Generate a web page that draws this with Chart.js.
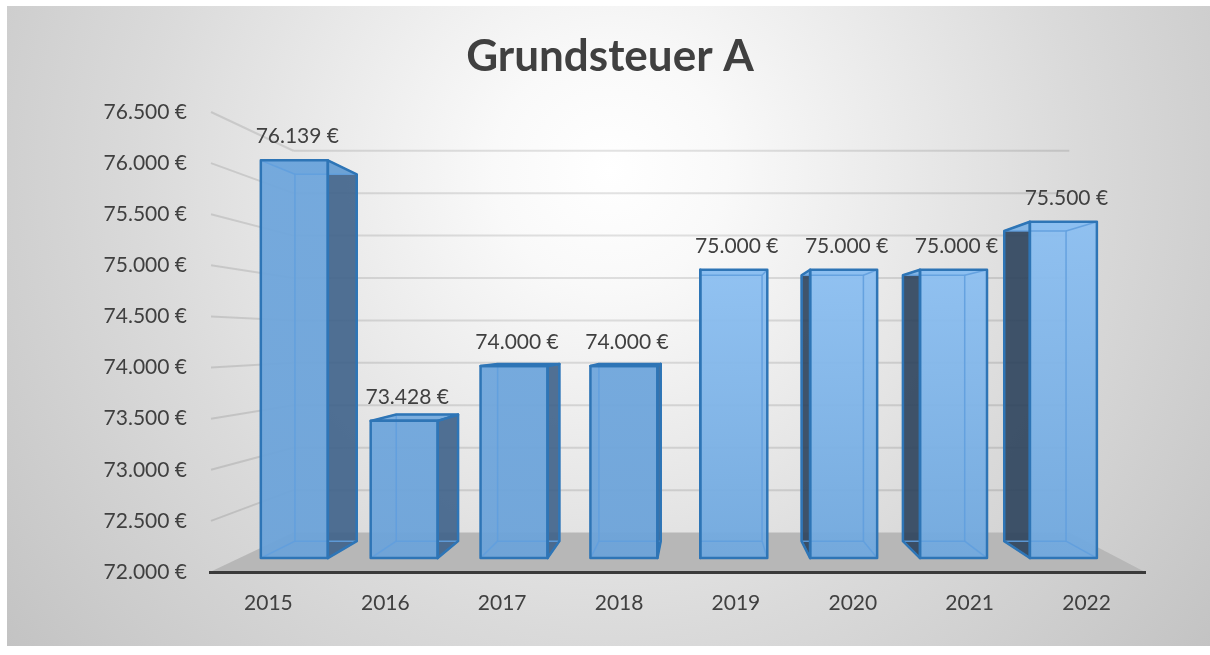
<!DOCTYPE html>
<html>
<head>
<meta charset="utf-8">
<script src="https://cdn.jsdelivr.net/npm/chart.js@4.4.0/dist/chart.umd.min.js"></script>
<style>
  html, body { margin: 0; background: #fff; }
  canvas { display: block; }
</style>
</head>
<body>
<canvas id="taxChart" width="1210" height="655"></canvas>
<script>
const chartTitle = 'Grundsteuer A';
const years = ['2015', '2016', '2017', '2018', '2019', '2020', '2021', '2022'];
const amounts = [76139, 73428, 74000, 74000, 75000, 75000, 75000, 75500];
const axisMin = 72000;
const axisMax = 76500;
const axisStep = 500;

// fake perspective: everything the scales lay out sits on the front plane,
// deeper planes are shrunk towards a vanishing point
const VP = { x: 700, y: 340 };
const DEPTH = { front: 0.94, back: 0.867, wall: 0.83 };
const TEXT = '#404040';
const FONT = 'Lato';

function euro(v) {
  return String(Math.round(v)).replace(/\B(?=(\d{3})+(?!\d))/g, '.') + ' €';
}

function proj(x, y, s) {
  return [VP.x + s * (x - VP.x), VP.y + s * (y - VP.y)];
}

function poly(ctx, pts) {
  ctx.beginPath();
  ctx.moveTo(pts[0][0], pts[0][1]);
  for (let i = 1; i < pts.length; i++) ctx.lineTo(pts[i][0], pts[i][1]);
  ctx.closePath();
}

function line(ctx, a, b) {
  ctx.beginPath();
  ctx.moveTo(a[0], a[1]);
  ctx.lineTo(b[0], b[1]);
  ctx.stroke();
}

const scene3d = {
  id: 'scene3d',
  beforeDraw(chart) {
    const { ctx, chartArea: area, scales } = chart;
    const W = chart.width;
    ctx.save();

    // panel background
    const bg = ctx.createRadialGradient(610, 170, 0, 610, 170, 780);
    bg.addColorStop(0, '#ffffff');
    bg.addColorStop(0.15, '#f9f9f9');
    bg.addColorStop(0.6, '#dadada');
    bg.addColorStop(1, '#c2c2c2');
    ctx.fillStyle = bg;
    ctx.fillRect(7, 6, W - 7, 640);

    // title
    ctx.fillStyle = TEXT;
    ctx.font = 'bold 44px ' + FONT;
    ctx.textAlign = 'center';
    ctx.textBaseline = 'middle';
    ctx.fillText(chartTitle, 610, 57);

    // floor
    const l = area.left, r = area.right, b = area.bottom;
    ctx.fillStyle = '#b7b7b7';
    poly(ctx, [[l, b], [r, b], proj(r, b, DEPTH.wall), proj(l, b, DEPTH.wall)]);
    ctx.fill();

    // gridlines on the side and back walls
    ctx.strokeStyle = 'rgba(0,0,0,0.11)';
    ctx.lineWidth = 2;
    scales.y.ticks.forEach(t => {
      if (t.value <= axisMin) return;
      const py = scales.y.getPixelForValue(t.value);
      const corner = proj(l, py, DEPTH.wall);
      line(ctx, [l + 1, py], corner);
      line(ctx, corner, proj(r, py, DEPTH.wall));
    });
    ctx.restore();
  },
  afterDatasetsDraw(chart) {
    const { ctx } = chart;
    const meta = chart.getDatasetMeta(0);
    const floorY = chart.scales.y.getPixelForValue(axisMin);
    ctx.save();
    ctx.lineJoin = 'round';
    meta.data.forEach((bar, i) => {
      const { x, y, width } = bar.getProps(['x', 'y', 'width'], true);
      const base = floorY;
      const l = x - width / 2, r = x + width / 2;
      const f = DEPTH.front, k = DEPTH.back;
      const fTL = proj(l, y, f), fTR = proj(r, y, f), fBL = proj(l, base, f), fBR = proj(r, base, f);
      const kTL = proj(l, y, k), kTR = proj(r, y, k), kBL = proj(l, base, k), kBR = proj(r, base, k);
      const lit = x > VP.x;

      // side face
      let side = null;
      if (r < VP.x) {
        side = [fTR, kTR, kBR, fBR];
        ctx.fillStyle = 'rgba(62,98,138,0.9)';
      } else if (l > VP.x) {
        side = [fTL, kTL, kBL, fBL];
        ctx.fillStyle = 'rgba(44,66,92,0.9)';
      }
      if (side) { poly(ctx, side); ctx.fill(); }

      // top face
      ctx.fillStyle = lit ? 'rgba(140,192,242,0.9)' : 'rgba(112,167,221,0.9)';
      poly(ctx, [fTL, fTR, kTR, kTL]);
      ctx.fill();

      // front face
      const g = ctx.createLinearGradient(0, fTL[1], 0, fBL[1]);
      g.addColorStop(0, lit ? 'rgba(140,191,241,0.95)' : 'rgba(111,166,220,0.95)');
      g.addColorStop(1, lit ? 'rgba(112,168,222,0.95)' : 'rgba(108,163,217,0.95)');
      ctx.fillStyle = g;
      poly(ctx, [fTL, fTR, fBR, fBL]);
      ctx.fill();

      // hidden edges showing through the glassy faces
      ctx.strokeStyle = 'rgba(96,158,222,0.9)';
      ctx.lineWidth = 1.5;
      poly(ctx, [kTL, kTR, kBR, kBL]);
      ctx.stroke();
      line(ctx, fTL, kTL); line(ctx, fTR, kTR);
      line(ctx, fBL, kBL); line(ctx, fBR, kBR);

      // outer edges
      ctx.strokeStyle = '#2e75b6';
      ctx.lineWidth = 2.5;
      if (side) { poly(ctx, side); ctx.stroke(); }
      if (fTL[1] > kTL[1]) { poly(ctx, [fTL, fTR, kTR, kTL]); ctx.stroke(); }
      poly(ctx, [fTL, fTR, fBR, fBL]);
      ctx.stroke();

      // value label
      ctx.fillStyle = TEXT;
      ctx.font = '21px ' + FONT;
      ctx.textAlign = 'center';
      ctx.textBaseline = 'middle';
      ctx.fillText(euro(amounts[i]), (fTL[0] + fTR[0]) / 2 + 3, fTL[1] - 24);
    });
    ctx.restore();
  }
};

new Chart(document.getElementById('taxChart').getContext('2d'), {
  type: 'bar',
  data: {
    labels: years,
    datasets: [{
      data: amounts,
      base: axisMin,
      backgroundColor: 'rgba(0,0,0,0)',
      borderWidth: 0,
      barPercentage: 0.61,
      categoryPercentage: 1
    }]
  },
  options: {
    responsive: false,
    animation: false,
    events: [],
    layout: { padding: { top: 112, right: 65, bottom: 0, left: 0 } },
    plugins: {
      legend: { display: false },
      tooltip: { enabled: false },
      title: { display: false }
    },
    scales: {
      x: {
        grid: { display: false, drawTicks: false },
        border: { display: true, color: '#3a3a3a', width: 3 },
        ticks: { color: TEXT, font: { family: FONT, size: 21 }, padding: 19 },
        afterFit(scale) { scale.height = 83; }
      },
      y: {
        min: axisMin,
        max: axisMax,
        grid: { display: false, drawTicks: false },
        border: { display: false },
        ticks: {
          stepSize: axisStep,
          color: TEXT,
          font: { family: FONT, size: 21 },
          padding: 23,
          callback: v => euro(v)
        },
        afterFit(scale) { scale.width = 210; }
      }
    }
  },
  plugins: [scene3d]
});
</script>
</body>
</html>
